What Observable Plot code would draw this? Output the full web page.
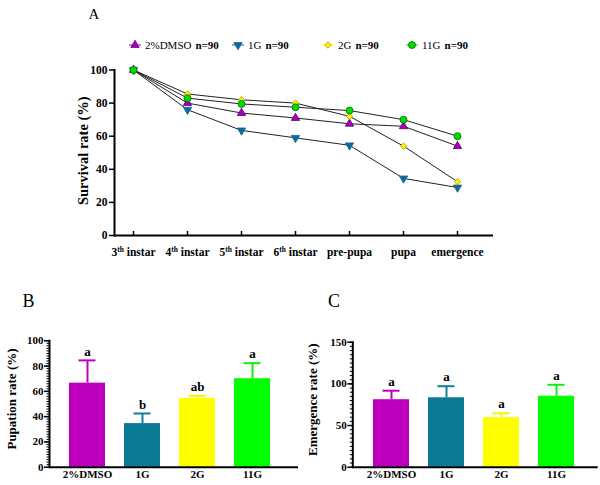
<!DOCTYPE html>
<html><head><meta charset="utf-8">
<script src="https://cdn.jsdelivr.net/npm/d3@7"></script>
<script src="https://cdn.jsdelivr.net/npm/@observablehq/plot@0.6"></script>
<style>
body{margin:0;background:#fff;}
#wrap{position:relative;width:600px;height:485px;font-family:"Liberation Serif","Times New Roman",serif;color:#000;overflow:hidden;}
.pan{position:absolute;}
.letter{position:absolute;font-weight:normal;}
.leg{position:absolute;top:38px;height:14px;display:flex;align-items:center;font-size:11px;white-space:nowrap;line-height:14px;}
.leg b{margin-left:4px;}
.leg svg{margin-right:4px;}
</style></head><body><div id="wrap"></div>
<script>
// ---------- data ----------
const stages = ["3th instar","4th instar","5th instar","6th instar","pre-pupa","pupa","emergence"];
const groups = ["2%DMSO","1G","2G","11G"];
const legendN = ["n=90","n=90","n=90","n=90"];
const survDMSO = [100,80,74,71,67.5,66,54];
const surv1G   = [100,76,63.5,59,54.5,34.5,29];
const surv2G   = [100,85.5,82,80,72,54,32.5];
const surv11G  = [100,83,79.5,77.5,75.5,70,60];
const survTicks = [0,20,40,60,80,100];
const pupMean = [66.5,34.5,54.5,70];
const pupErr  = [18,8,2,12.3];
const pupLetters = ["a","b","ab","a"];
const pupTicks = [0,20,40,60,80,100];
const emMean = [81,83.3,59.5,85.2];
const emErr  = [10.8,13.9,5.2,13.7];
const emLetters = ["a","a","a","a"];
const emTicks = [0,50,100,150];

// ---------- styles ----------
const barColors = ["#BE00BE","#0B7A93","#FFFF00","#00FF00"];
const errColors = ["#C000C0","#127F99","#F5F500","#10F010"];
const markFill = ["#A800B8","#1566A6","#FFF200","#00DD00"];
const markStroke = ["#5A0070","#0A6F7F","#B09A00","#006A00"];
const markSymbol = ["triangle","triangle","diamond2","circle"];
const markR = [3.1,3.1,2.9,3.5];
const markRotate = [0,180,0,0];
const FONT = '"Liberation Serif", "Times New Roman", serif';

const wrap = document.getElementById("wrap");
const survSeries = [survDMSO,surv1G,surv2G,surv11G];
const survRows = groups.flatMap((g,gi)=>stages.map((s,i)=>({group:g, gi, stage:s, value:survSeries[gi][i]})));

function place(node, left, top){ node.classList.add("pan"); node.style.left=left+"px"; node.style.top=top+"px"; wrap.appendChild(node); return node; }
function letter(t, left, top, size){ const d=document.createElement("div"); d.className="letter"; d.textContent=t; d.style.left=left+"px"; d.style.top=top+"px"; d.style.fontSize=size+"px"; d.style.lineHeight=size+"px"; wrap.appendChild(d); }

// ---------- Panel A ----------
const dotMarks = groups.map((g,gi)=>Plot.dot(survRows.filter(d=>d.gi===gi),{x:"stage", y:"value", symbol:markSymbol[gi], fill:markFill[gi], stroke:markStroke[gi], strokeWidth:0.8, r:markR[gi], rotate:markRotate[gi]}));
const pA = Plot.plot({
  width:600, height:215, marginLeft:114, marginRight:107, marginTop:14.5, marginBottom:35,
  style:{fontFamily:FONT, fontSize:"11.5px", fontWeight:"bold", color:"#000", background:"transparent", overflow:"visible"},
  x:{type:"point", domain:stages, range:[132,458], padding:0},
  y:{domain:[0,100]},
  marks:[
    Plot.axisY({ticks:survTicks, tickSize:5, tickPadding:2, label:null, strokeWidth:1.5}),
    Plot.axisX({tickSize:4, dy:-4, text:null, label:null, strokeWidth:1.5}),
    Plot.axisX({tickSize:0, tickPadding:12, label:null}),
    Plot.frame({anchor:"left", strokeWidth:2}),
    Plot.ruleY([0], {strokeWidth:2}),
    Plot.line(survRows,{x:"stage", y:"value", z:"group", stroke:"#222", strokeWidth:1}),
    ...dotMarks,
    Plot.text(["Survival rate (%)"], {frameAnchor:"left", textAnchor:"middle", dx:-31, dy:-2, rotate:-90, fontSize:14.5, fontWeight:"bold"})
  ]
});
d3.select(pA).selectAll('g[aria-label="x-axis tick label"] text').each(function(){
  const t=this.textContent; const m=t.match(/^(\d)th (.*)$/);
  if(m){ const s=d3.select(this); s.text("");
    s.append("tspan").text(m[1]);
    s.append("tspan").attr("font-size","7.5px").attr("dy","-4").text("th");
    s.append("tspan").attr("dy","4").text(" "+m[2]); }
});
place(pA, 0, 55);

// legend
const legLeft = [129, 232, 322, 406];
const symMap = {triangle:d3.symbolTriangle, diamond2:d3.symbolDiamond2, circle:d3.symbolCircle};
groups.forEach((g,i)=>{
  const d=document.createElement("div"); d.className="leg"; d.style.left=legLeft[i]+"px";
  const sym = d3.symbol(symMap[markSymbol[i]], Math.PI*markR[i]*markR[i])();
  d.innerHTML = `<svg width="12" height="12" viewBox="-6 -6 12 12"><line x1="-6" x2="6" y1="0" y2="0" stroke="${markFill[i]}" stroke-width="1"/><path d="${sym}" transform="rotate(${markRotate[i]})" fill="${markFill[i]}" stroke="${markStroke[i]}" stroke-width="0.8"/></svg><span>${g}</span><b>${legendN[i]}</b>`;
  wrap.appendChild(d);
});

// ---------- bar panels ----------
function barPanel(means, errs, letters, ticks, minorStep, title, opts){
  const rows = groups.map((g,i)=>({group:g, mean:means[i], upper:means[i]+errs[i], letter:letters[i], color:barColors[i], ecolor:errColors[i]}));
  const top = ticks[ticks.length-1];
  return Plot.plot({
    width:300, height:165, marginLeft:opts.ml, marginRight:opts.mr, marginTop:opts.mt, marginBottom:18.3,
    style:{fontFamily:FONT, fontSize:"11px", fontWeight:"bold", color:"#000", background:"transparent", overflow:"visible"},
    x:{type:"band", domain:groups, range:opts.range, paddingInner:0.34, paddingOuter:0},
    y:{domain:[0, top]},
    marks:[
      Plot.axisY({ticks:d3.range(0, top+0.001, minorStep), tickSize:2.5, text:null, label:null, strokeWidth:1}),
      Plot.axisY({ticks:ticks, tickSize:5, tickPadding:1, label:null, strokeWidth:1.5}),
      Plot.axisX({tickSize:0, tickPadding:3, label:null}),
      Plot.barY(rows,{x:"group", y:"mean", fill:"color"}),
      Plot.ruleX(rows,{x:"group", y1:"mean", y2:"upper", stroke:"ecolor", strokeWidth:2}),
      Plot.tickY(rows,{x:"group", y:"upper", stroke:"ecolor", strokeWidth:2, insetLeft:9.5, insetRight:9.5}),
      Plot.text(rows,{x:"group", y:"upper", text:"letter", dy:-9, fontSize:13, fontWeight:"bold"}),
      Plot.frame({anchor:"left", strokeWidth:2}),
      Plot.ruleY([0], {strokeWidth:2}),
      Plot.text([title], {frameAnchor:"left", textAnchor:"middle", dx:opts.tdx, dy:-5, rotate:-90, fontSize:13, fontWeight:"bold"})
    ]
  });
}
const pB = barPanel(pupMean, pupErr, pupLetters, pupTicks, 2, "Pupation rate (%)", {ml:49, mr:2, mt:20.3, range:[67,271.5], tdx:-38});
place(pB, 0, 320);
const pC = barPanel(emMean, emErr, emLetters, emTicks, 5, "Emergence rate (%)", {ml:52.3, mr:2.3, mt:21.7, range:[71,275.8], tdx:-40});
place(pC, 300, 320);

letter("A", 88.5, 7, 15);
letter("B", 22.5, 292, 18);
letter("C", 328, 292, 18);
</script></body></html>
